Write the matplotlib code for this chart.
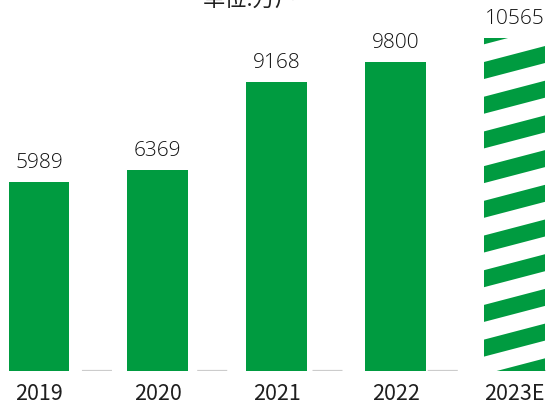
import matplotlib
matplotlib.use('Agg')
import matplotlib.pyplot as plt
from matplotlib.patches import Polygon
from matplotlib.transforms import IdentityTransform
import numpy as np

plt.rcParams['lines.scale_dashes'] = False

# households, in 10k (万户)
years = ['2019', '2020', '2021', '2022', '2023E']
households = [5989, 6369, 9168, 9800, 10565]
estimated = [False, False, False, False, True]

green = '#009b40'
text_color = '#1f1f1f'

fig = plt.figure(figsize=(5.46, 4.05), dpi=100)
ax = fig.add_axes([0, 34.5 / 405, 1, 1 - 34.5 / 405])

x = np.arange(len(years))
ax.set_xlim(-39 / 118.9, 4 + (546 - 514.5) / 118.9)
ax.set_ylim(0, 11762)

# dashed baseline behind the bars
ax.axhline(0, color='#cccccc', linewidth=1.6, zorder=1,
           linestyle=(24.0, (21.6, 19.9)))

bars = ax.bar(x, households, width=0.513, zorder=2,
              color=[('white' if e else green) for e in estimated],
              edgecolor='none')

for xi, v in zip(x, households):
    ax.annotate(str(v), (xi, v), xytext=(0, 6.5), textcoords='offset points',
                ha='center', va='bottom', fontsize=15, family='Open Sans',
                fontweight='light', color='#111111')

# diagonal stripes for the estimated year
fig.canvas.draw()
for bar, e in zip(bars, estimated):
    if not e:
        continue
    (x0, y0), (x1, y1) = bar.get_window_extent().get_points()
    slope = 0.262
    period = 34.7
    thick = 17.0
    start = 326.0
    k_lo = int(np.floor((y0 - start - slope * (x1 - x0) - thick) / period)) - 1
    k_hi = int(np.ceil((y1 - start) / period)) + 1
    for k in range(k_lo, k_hi):
        b = start + k * period
        xa, xb = x0 - 5, x1 + 5
        pts = [(xa, b + slope * (xa - x0)), (xb, b + slope * (xb - x0)),
               (xb, b + thick + slope * (xb - x0)), (xa, b + thick + slope * (xa - x0))]
        poly = Polygon(pts, closed=True, facecolor=green, edgecolor='none',
                       transform=IdentityTransform(), zorder=3)
        ax.add_artist(poly)
        poly.set_clip_path(bar)

ax.set_xticks(x)
ax.set_xticklabels(years, family='Noto Sans CJK SC', fontsize=15.5, color=text_color)
ax.tick_params(axis='x', length=0, pad=9)
ax.set_yticks([])
for s in ax.spines.values():
    s.set_visible(False)

fig.text(250 / 546, 1.0, '单位:万户', ha='center', va='center',
         family='Noto Sans CJK SC', fontsize=16, color=text_color)

fig.savefig('out.png', dpi=100)
